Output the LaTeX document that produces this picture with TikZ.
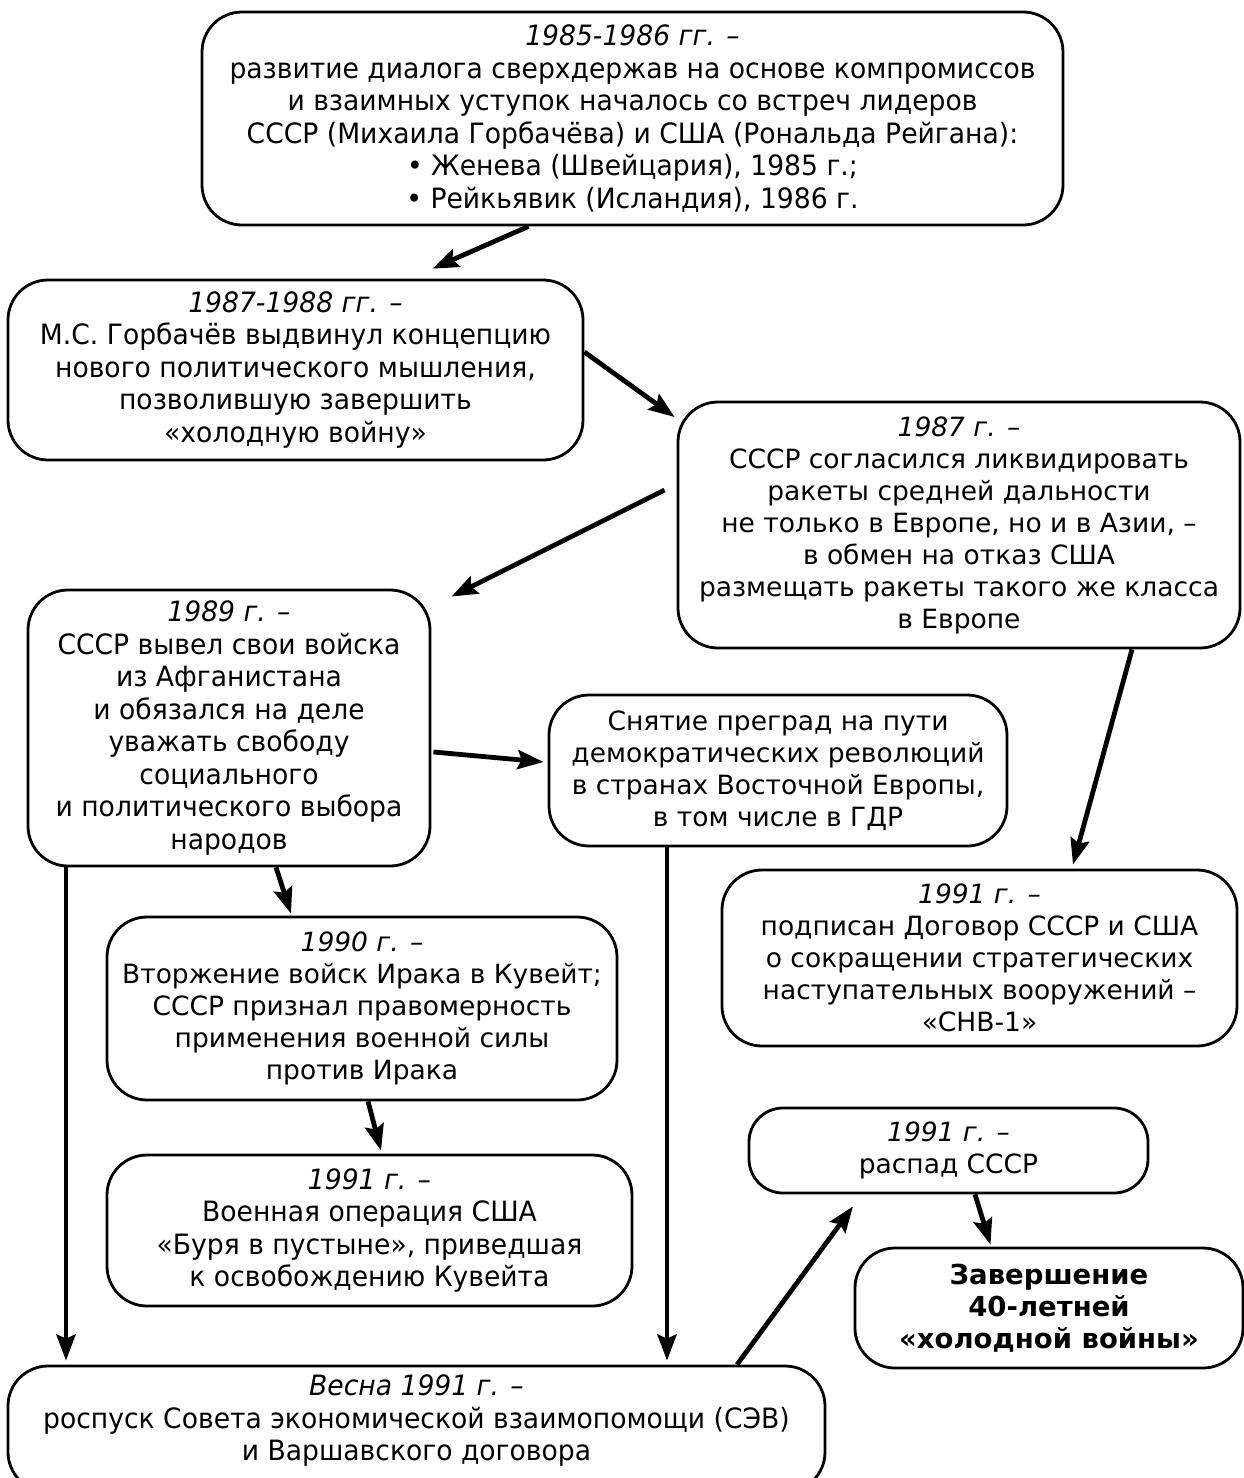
\documentclass[tikz,border=0pt]{standalone}
\usepackage{fontspec}
\setmainfont{DejaVu Sans}
\newfontfamily\condfont{DejaVu Sans}[FakeStretch=0.95]
\usetikzlibrary{arrows.meta}
\tikzset{
  box/.style={draw, line width=2.8pt, rounded corners=40pt, align=center, inner sep=4pt,
    font=\fontsize{26.5}{32}\selectfont},
  cbox/.style={box, font=\condfont\fontsize{28}{32.5}\selectfont},
  arr/.style={line width=4.8pt, -{Stealth[length=26pt,width=19pt,inset=4pt]}},
}
\begin{document}
\begin{tikzpicture}[x=1pt,y=-1pt]
\useasboundingbox (0,0) rectangle (1243,1478);
\node[cbox, minimum width=861pt, minimum height=213pt] (A) at (632.5,118.5)
 {\textit{1985-1986 гг. –}\\развитие диалога сверхдержав на основе компромиссов\\и взаимных уступок началось со встреч лидеров\\СССР (Михаила Горбачёва) и США (Рональда Рейгана):\\• Женева (Швейцария), 1985 г.;\\• Рейкьявик (Исландия), 1986 г.};
\node[cbox, minimum width=575pt, minimum height=180pt] (B) at (295.5,370)
 {\textit{1987-1988 гг. –}\\М.С. Горбачёв выдвинул концепцию\\нового политического мышления,\\позволившую завершить\\«холодную войну»};
\node[box, minimum width=562pt, minimum height=246pt] (C) at (959,525)
 {\textit{1987 г. –}\\СССР согласился ликвидировать\\ракеты средней дальности\\не только в Европе, но и в Азии, –\\в обмен на отказ США\\размещать ракеты такого же класса\\в Европе};
\node[cbox, minimum width=402pt, minimum height=276pt] (D) at (229,728)
 {\textit{1989 г. –}\\СССР вывел свои войска\\из Афганистана\\и обязался на деле\\уважать свободу\\социального\\и политического выбора\\народов};
\node[box, minimum width=458pt, minimum height=151pt] (E) at (778,770.5)
 {Снятие преград на пути\\демократических революций\\в странах Восточной Европы,\\в том числе в ГДР};
\node[box, minimum width=515pt, minimum height=176pt] (F) at (979.5,958)
 {\textit{1991 г. –}\\подписан Договор СССР и США\\о сокращении стратегических\\наступательных вооружений –\\«СНВ-1»};
\node[box, minimum width=510pt, minimum height=183pt] (G) at (362,1008.5)
 {\textit{1990 г. –}\\Вторжение войск Ирака в Кувейт;\\СССР признал правомерность\\применения военной силы\\против Ирака};
\node[cbox, minimum width=525pt, minimum height=151pt] (H) at (369.5,1230.5)
 {\textit{1991 г. –}\\Военная операция США\\«Буря в пустыне», приведшая\\к освобождению Кувейта};
\node[box, minimum width=399pt, minimum height=85pt, rounded corners=34pt] (I) at (948.5,1150.5)
 {\textit{1991 г. –}\\распад СССР};
\node[box, minimum width=388pt, minimum height=120pt, font=\bfseries\fontsize{27.5}{32}\selectfont] (J) at (1049,1308)
 {Завершение\\40-летней\\«холодной войны»};
\node[cbox, minimum width=817pt, minimum height=126pt, text depth=22pt] (K) at (416.5,1429)
 {\textit{Весна 1991 г. –}\\роспуск Совета экономической взаимопомощи (СЭВ)\\и Варшавского договора};
\draw[arr] ([xshift=-104pt]A.south) -- ([xshift=137pt,yshift=10pt]B.north);
\draw[arr] ([yshift=18pt]B.east) -- ([xshift=-2pt,yshift=108pt]C.west);
\draw[arr] ([xshift=-12pt,yshift=35pt]C.west) -- ([xshift=20pt,yshift=-8pt]D.north east);
\draw[arr] ([xshift=2pt,yshift=-24pt]D.east) -- ([xshift=-4pt,yshift=8.5pt]E.west);
\draw[arr] ([xshift=173pt]C.south) -- ([xshift=93.5pt,yshift=4pt]F.north);
\draw[arr] ([xshift=47pt]D.south) -- ([xshift=-71pt,yshift=2pt]G.north);
\draw[arr] ([xshift=-163pt]D.south) -- ([xshift=-350.5pt,yshift=4pt]K.north);
\draw[arr] ([xshift=-111pt]E.south) -- ([xshift=250.5pt,yshift=4pt]K.north);
\draw[arr] ([xshift=6pt]G.south) -- ([xshift=11.5pt,yshift=3pt]H.north);
\draw[arr] ([xshift=320.5pt]K.north) -- ([xshift=-95.5pt,yshift=-12pt]I.south);
\draw[arr] ([xshift=26.5pt]I.south) -- ([xshift=-58.5pt,yshift=2pt]J.north);
\end{tikzpicture}
\end{document}
